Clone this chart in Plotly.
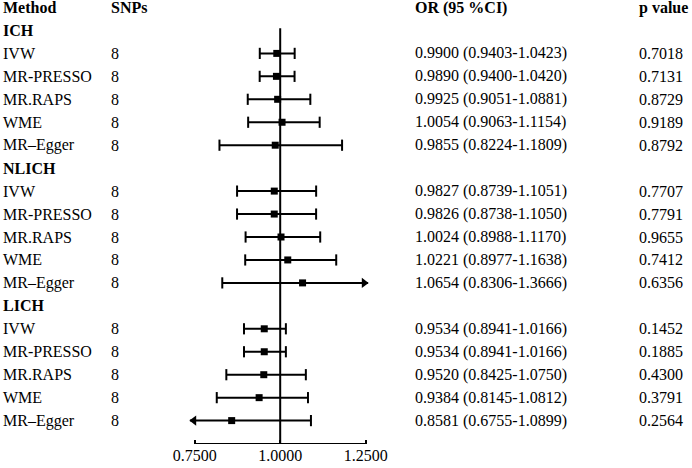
import plotly.graph_objects as go

# forest plot data
groups = ["ICH", "NLICH", "LICH"]
methods = ["IVW", "MR-PRESSO", "MR.RAPS", "WME", "MR\u2013Egger"]
snps = [8, 8, 8, 8, 8]

or_ich = [0.9900, 0.9890, 0.9925, 1.0054, 0.9855]
lo_ich = [0.9403, 0.9400, 0.9051, 0.9063, 0.8224]
hi_ich = [1.0423, 1.0420, 1.0881, 1.1154, 1.1809]
p_ich = [0.7018, 0.7131, 0.8729, 0.9189, 0.8792]

or_nlich = [0.9827, 0.9826, 1.0024, 1.0221, 1.0654]
lo_nlich = [0.8739, 0.8738, 0.8988, 0.8977, 0.8306]
hi_nlich = [1.1051, 1.1050, 1.1170, 1.1638, 1.3666]
p_nlich = [0.7707, 0.7791, 0.9655, 0.7412, 0.6356]

or_lich = [0.9534, 0.9534, 0.9520, 0.9384, 0.8581]
lo_lich = [0.8941, 0.8941, 0.8425, 0.8145, 0.6755]
hi_lich = [1.0166, 1.0166, 1.0750, 1.0812, 1.0899]
p_lich = [0.1452, 0.1885, 0.4300, 0.3791, 0.2564]

x_ticks = [0.75, 1.0, 1.25]

W, H = 692, 468
FONT = "Liberation Serif, Times New Roman, serif"
ROW_H = 22.95
ROW0 = 7.5
AXIS_PX = 444
X0_PX, X1_PX = 194.7, 365.7
PX_PER_UNIT = (X1_PX - X0_PX) / (x_ticks[-1] - x_ticks[0])
CLIP_LO, CLIP_HI = 0.736, 1.257
XR = [0.72, 1.27]


def xpx(v):
    return X0_PX + (v - x_ticks[0]) * PX_PER_UNIT


table = [
    (groups[0], or_ich, lo_ich, hi_ich, p_ich),
    (groups[1], or_nlich, lo_nlich, hi_nlich, p_nlich),
    (groups[2], or_lich, lo_lich, hi_lich, p_lich),
]

annotations = []
def txt(px, row, s, bold=False):
    annotations.append(dict(
        x=px / W, xref="paper", y=row, yref="y", xanchor="left", yanchor="middle",
        text="<b>%s</b>" % s if bold else s, showarrow=False,
        font=dict(family=FONT, size=16, color="black")))

txt(1, 0, "Method", True)
txt(109, 0, "SNPs", True)
txt(413, 0, "OR (95 %CI)", True)
txt(637, 0, "p value", True)

line_x, line_y = [], []
cap_x, cap_y = [], []
ar_x, ar_y = [], []
al_x, al_y = [], []
pt_x, pt_y = [], []

row = 1
for name, ors, los, his, ps in table:
    txt(1, row, name, True)
    row += 1
    for i, m in enumerate(methods):
        txt(1, row, m)
        txt(109, row, str(snps[i]))
        txt(413, row, "%.4f (%.4f-%.4f)" % (ors[i], los[i], his[i]))
        txt(637, row, "%.4f" % ps[i])
        lo = max(los[i], CLIP_LO)
        hi = min(his[i], CLIP_HI)
        line_x += [lo, hi, None]
        line_y += [row, row, None]
        if los[i] < CLIP_LO:
            al_x.append(CLIP_LO + 4 / PX_PER_UNIT)
            al_y.append(row)
        else:
            cap_x.append(lo)
            cap_y.append(row)
        if his[i] > CLIP_HI:
            ar_x.append(CLIP_HI - 4 / PX_PER_UNIT)
            ar_y.append(row)
        else:
            cap_x.append(hi)
            cap_y.append(row)
        pt_x.append(ors[i])
        pt_y.append(row)
        row += 1

traces = [
    go.Scatter(x=line_x, y=line_y, mode="lines", line=dict(color="black", width=2),
               cliponaxis=False, hoverinfo="skip"),
    go.Scatter(x=cap_x, y=cap_y, mode="markers", cliponaxis=False,
               marker=dict(symbol="line-ns-open", size=8, color="black",
                           line=dict(color="black", width=2))),
    go.Scatter(x=ar_x, y=ar_y, mode="markers", cliponaxis=False,
               marker=dict(symbol="triangle-right", size=9, color="black")),
    go.Scatter(x=al_x, y=al_y, mode="markers", cliponaxis=False,
               marker=dict(symbol="triangle-left", size=9, color="black")),
    go.Scatter(x=pt_x, y=pt_y, mode="markers", cliponaxis=False,
               marker=dict(symbol="square", size=7, color="black")),
]

y_bottom = (AXIS_PX - ROW0) / ROW_H
y_top = (0 - ROW0) / ROW_H

fig = go.Figure(data=traces)
fig.update_layout(
    width=W, height=H, autosize=False,
    margin=dict(l=0, r=0, t=0, b=H - AXIS_PX, pad=0, autoexpand=False),
    paper_bgcolor="white", plot_bgcolor="white",
    showlegend=False,
    annotations=annotations,
    shapes=[
        # reference line at OR = 1
        dict(type="line", xref="x", yref="y", x0=1.0, x1=1.0, y0=0.9, y1=y_bottom,
             line=dict(color="black", width=2), layer="below"),
        # axis line only between the outer ticks
        dict(type="line", xref="x", yref="y", x0=x_ticks[0], x1=x_ticks[-1],
             y0=y_bottom, y1=y_bottom, line=dict(color="black", width=2)),
    ],
    xaxis=dict(domain=[xpx(XR[0]) / W, xpx(XR[1]) / W], range=XR,
               tickvals=x_ticks, tickformat=".4f", showgrid=False, zeroline=False,
               showline=False, automargin=False,
               ticks="inside", ticklen=4, tickwidth=2, tickcolor="black",
               ticklabelstandoff=0,
               tickfont=dict(family=FONT, size=16, color="black")),
    yaxis=dict(range=[y_bottom, y_top], visible=False, showgrid=False,
               zeroline=False, automargin=False),
)

# drop the default page margin so the figure sits at the window's corner
fig.write_html("out.html", config={"displayModeBar": False},
               post_script="document.body.style.margin='0';")
